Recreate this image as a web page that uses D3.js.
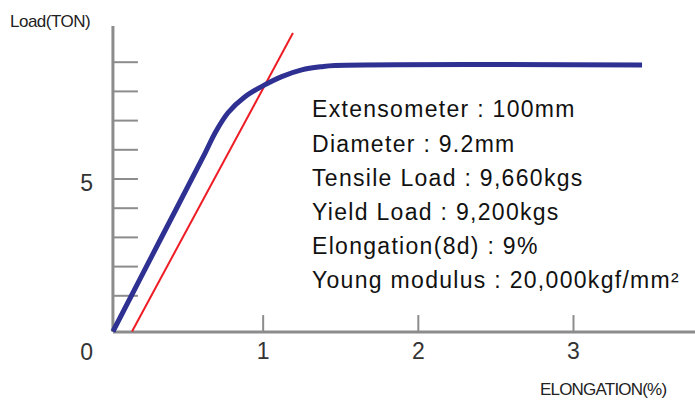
<!DOCTYPE html>
<html><head><meta charset="utf-8">
<script src="https://cdn.jsdelivr.net/npm/d3@7"></script>
<style>html,body{margin:0;padding:0;background:#fff;} svg{display:block}</style>
</head><body>
<svg id="chart" width="695" height="401"></svg>
<script>
// ---- Data ----
const curveElongation = [0.035, 0.330, 0.628, 0.693, 0.778, 0.886, 1.004, 1.123, 1.252, 1.380, 1.466, 3.445];
const curveLoad       = [-0.24, 2.80, 5.86, 6.56, 7.26, 7.80, 8.18, 8.49, 8.72, 8.83, 8.87, 8.89];
const tangentElongation = [0.158, 1.195];
const tangentLoad       = [-0.24, 9.98];
const xTickValues = [1, 2, 3];
const xTickLabels = ["1", "2", "3"];
const yTickValues = [1, 2, 3, 4, 5, 6, 7, 8, 9];
const yLabelledTicks = [5];
const originLabel = "0";
const yAxisExtent = [-0.26, 10.22];
const xAxisExtentStart = 0.035;
const yTitle = "Load(TON)";
const xTitle = "ELONGATION(%)";
const specLines = [
  "Extensometer : 100mm",
  "Diameter : 9.2mm",
  "Tensile Load : 9,660kgs",
  "Yield Load : 9,200kgs",
  "Elongation(8d) : 9%",
  "Young modulus : 20,000kgf/mm\u00B2"
];

// ---- Layout ----
const W = 695, H = 401;
const svg = d3.select("#chart");
const x = d3.scaleLinear().domain([0, 3]).range([107.5, 573]);
const y = d3.scaleLinear().domain([0, 9]).range([324.5, 61.7]);
const axisColor = "#8c8c8c";
const numFont = "'Liberation Sans', Arial, sans-serif";

// axis lines
const ox = x(xAxisExtentStart);
svg.append("line").attr("x1", ox).attr("x2", ox)
  .attr("y1", y(yAxisExtent[0])).attr("y2", y(yAxisExtent[1]))
  .attr("stroke", axisColor).attr("stroke-width", 3);
svg.append("line").attr("x1", ox).attr("x2", W)
  .attr("y1", y(yAxisExtent[0])).attr("y2", y(yAxisExtent[0]))
  .attr("stroke", axisColor).attr("stroke-width", 3);

// y ticks
const yAxis = d3.axisLeft(y).tickValues(yTickValues).tickSize(-25).tickPadding(20)
  .tickFormat(d => yLabelledTicks.includes(d) ? String(d) : "");
const gy = svg.append("g").attr("transform", `translate(${ox},0)`).call(yAxis);
gy.select(".domain").remove();
gy.selectAll(".tick line").attr("stroke", axisColor).attr("stroke-width", 2);
gy.selectAll(".tick text").attr("font-family", numFont).attr("font-size", 23)
  .attr("fill", "#333").attr("dy", "0.5em");

// x ticks
const xAxis = d3.axisBottom(x).tickValues(xTickValues).tickSize(-17).tickPadding(11)
  .tickFormat((d, i) => xTickLabels[i]);
const gx = svg.append("g").attr("transform", `translate(0,${y(yAxisExtent[0])})`).call(xAxis);
gx.select(".domain").remove();
gx.selectAll(".tick line").attr("stroke", axisColor).attr("stroke-width", 2);
gx.selectAll(".tick text").attr("font-family", numFont).attr("font-size", 23).attr("fill", "#333");

// origin label
svg.append("text").text(originLabel)
  .attr("x", ox - 20).attr("y", y(yAxisExtent[0]) + 28)
  .attr("text-anchor", "end").attr("font-family", numFont).attr("font-size", 23).attr("fill", "#333");

// tangent (red)
const tangent = tangentElongation.map((v, i) => [v, tangentLoad[i]]);
svg.append("path").datum(tangent)
  .attr("d", d3.line().x(d => x(d[0])).y(d => y(d[1])))
  .attr("fill", "none").attr("stroke", "#ee1c25").attr("stroke-width", 2);

// load curve (blue)
const curve = curveElongation.map((v, i) => [v, curveLoad[i]]);
svg.append("path").datum(curve)
  .attr("d", d3.line().x(d => x(d[0])).y(d => y(d[1])).curve(d3.curveCatmullRom.alpha(0.5)))
  .attr("fill", "none").attr("stroke", "#2e3192").attr("stroke-width", 5)
  .attr("stroke-linecap", "butt").attr("stroke-linejoin", "round");

// titles
svg.append("text").text(yTitle).attr("x", 10).attr("y", 26.5)
  .attr("font-family", numFont).attr("font-size", 17).attr("letter-spacing", -0.5).attr("fill", "#222");
svg.append("text").text(xTitle).attr("x", 540).attr("y", 395)
  .attr("font-family", numFont).attr("font-size", 17).attr("letter-spacing", -0.8).attr("fill", "#222");

// specs block
svg.append("g").selectAll("text").data(specLines).join("text")
  .text(d => d)
  .attr("x", 312).attr("y", (d, i) => 117.3 + i * 34.2)
  .attr("font-family", numFont).attr("font-size", 23).attr("letter-spacing", 1.3)
  .attr("fill", "#111");
</script>
</body></html>
